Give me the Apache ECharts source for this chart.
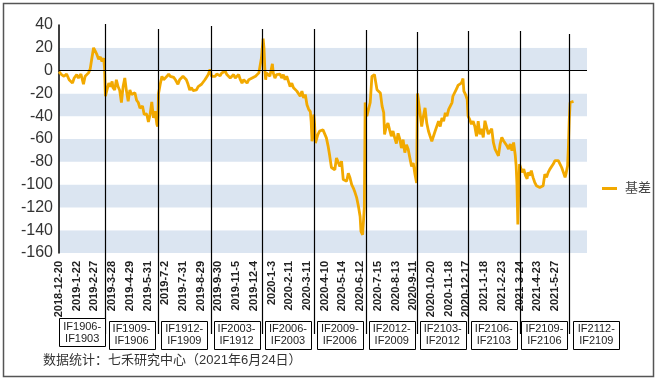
<!DOCTYPE html>
<html><head><meta charset="utf-8">
<script src="https://cdn.jsdelivr.net/npm/echarts@6/dist/echarts.min.js"></script>
<style>html,body{margin:0;padding:0;background:#fff}#c{width:657px;height:381px}</style>
</head><body><div id="c"></div>
<script>
// x: trading-day index from 2018-12-20; ticks every 21 trading days
const tickLabels = ['2018-12-20','2019-1-22','2019-2-27','2019-3-28','2019-4-29','2019-5-31','2019-7-2','2019-7-31','2019-8-29','2019-9-30','2019-11-5','2019-12-4','2020-1-3','2020-2-11','2020-3-11','2020-4-10','2020-5-14','2020-6-12','2020-7-15','2020-8-13','2020-9-11','2020-10-20','2020-11-18','2020-12-17','2021-1-18','2021-2-23','2021-3-24','2021-4-23','2021-5-27'];
const tickStep = 21;
const axisDays = 626;

const dayIndex = [0,3,6,9,12,14,16,18,21,23,26,29,31,33,35,37,39,41,43,45,47,49,51,53,54,55,57,59,61,63,64,66,68,70,72,74,76,78,80,82,84,86,90,92,94,96,99,101,104,106,108,110,112,114,116,117,118,120,122,124,126,128,130,132,134,136,138,140,141,143,145,147,149,151,153,155,157,159,161,163,165,167,169,171,173,175,177,179,181,183,185,187,189,191,193,195,197,199,201,203,205,207,209,211,213,215,217,219,221,223,225,227,229,231,233,235,237,238,240,242,243,244,245,246,248,250,252,253,254,256,258,260,262,264,266,268,270,272,274,276,278,280,282,284,286,288,290,292,294,296,298,299,300,301,302,303,304,306,307,309,313,315,317,319,321,323,325,327,329,331,333,335,337,339,341,343,345,347,349,351,353,355,357,358,360,362,363,365,367,369,371,372,374,375,377,379,381,383,385,386,388,390,392,394,396,398,400,402,404,406,408,410,412,414,416,418,420,422,424,425,428,430,432,434,436,438,440,442,444,446,448,450,452,454,456,458,460,462,464,466,467,470,472,473,475,477,479,480,482,484,485,487,489,491,493,495,497,499,501,503,505,507,509,511,513,515,517,519,521,523,525,527,529,531,533,535,537,539,541,542,543,544,545,546,547,549,551,553,555,556,558,560,562,564,566,568,570,572,574,576,578,580,582,584,586,588,590,592,594,596,598,600,601,603,604,605,606,608,610];
const basis = [-1,-3.5,-5,-3,-8,-6.5,-11,-6.5,-3.5,-6.5,-3,-12,-5,-4,-2,1.5,11,20,17,14,10,12,8,11,2,-22.5,-21,-11,-14,-9.5,-15,-17,-8,-14,-17.5,-28,-14,-6.5,-18,-27,-17,-21,-19.5,-26,-28,-33,-31,-38.5,-38,-45,-38.5,-27.5,-41.5,-35.7,-47,-49,-20,-12,-5,-8,-6.5,-5,-3,-5,-6.5,-6,-8,-9.5,-12,-8,-8,-5,-5,-8,-12,-17,-15,-17.5,-17,-17,-14,-14,-12,-11,-8,-6.5,-3.5,1,-5,-3.5,-5,-3,-3.5,-4.5,-2,-3,-0.5,-3.5,-3.5,-6.5,-5,-3.5,-6.5,-5,-3.5,-8,-11,-8,-6.5,-11,-8,-9,-6.5,-7,-5,-3.5,-2,2.5,11,28,20,2,-8,-2,-0.5,-5,2.5,6,-2,-6.5,-3.5,-5,-3,-6.5,-3.5,-8,-5,-9.5,-14,-11,-15,-14,-18,-17,-22.5,-18,-24,-21,-30,-34,-36,-45,-62,-56,-38.5,-47,-63.5,-63.5,-56,-53,-52,-53,-59,-66,-75,-85,-84,-87,-76.6,-75,-84,-79.5,-95.6,-94,-97,-90,-94,-100,-103,-107,-111.7,-119,-128,-141,-144,-120,-28,-40,-38.6,-28,-5,-3.5,-3.5,-8,-16.7,-15,-19.6,-31,-37,-56,-49,-46,-52,-57.6,-53,-59,-64,-55,-60,-68,-60.5,-72,-65,-69,-76.6,-84,-81,-91,-98.5,-20,-37,-49,-40,-32.7,-46,-53,-57.6,-62,-63.5,-53,-52,-44.4,-49,-41.5,-44.4,-37,-40,-34,-35.7,-28,-22.5,-18,-15,-13,-13.7,-11,-7,-18,-21,-25.4,-40,-43,-47,-44.4,-49,-57.6,-44.4,-56,-51,-58.6,-44,-45.4,-55.7,-54,-51,-63,-68.8,-70,-74.7,-64.4,-58.6,-61.5,-63,-66,-68.8,-64.4,-70.3,-63,-74.7,-83.5,-101,-135,-107,-82,-83.5,-89.3,-86.4,-92,-95,-89.3,-92,-87.8,-93.7,-98,-101,-99.5,-102.5,-102.5,-101,-90.8,-93.7,-89.3,-86.4,-85,-82,-79,-77.6,-79,-82,-85,-89.3,-93.7,-90.8,-83.5,-66,-42.5,-28,-28.5,-27];

// contract roll days (trading-day index) and the spread labels for each period
const rollDays = [55,117,180,241,302,364,425,485,546,605];
const spreadLabels = ['IF1906-\nIF1903','IF1909-\nIF1906','IF1912-\nIF1909','IF2003-\nIF1912','IF2006-\nIF2003','IF2009-\nIF2006','IF2012-\nIF2009','IF2103-\nIF2012','IF2106-\nIF2103','IF2109-\nIF2106','IF2112-\nIF2109'];
const seriesName = '基差';
const footnote = '数据统计：七禾研究中心（2021年6月24日）';

const yMin = -160, yMax = 40, yStep = 20;

const FONT = '"Liberation Sans", Arial, "Noto Sans CJK SC", sans-serif';
const chart = echarts.init(document.getElementById('c'), null, {renderer: 'canvas'});
const pts = dayIndex.map((d, i) => [d, basis[i]]);

chart.setOption({
  animation: false,
  backgroundColor: '#fff',
  grid: {left: 59, right: 70, top: 25, bottom: 128, containLabel: false},
  legend: {
    data: [{name: seriesName, icon: 'rect'}], left: 597, top: 177, orient: 'vertical',
    itemWidth: 15, itemHeight: 3, itemGap: 4,
    textStyle: {fontSize: 13, color: '#444', fontFamily: FONT, padding: [0, 0, 0, 3]}
  },
  xAxis: {
    type: 'value', min: 0, max: axisDays, interval: tickStep,
    axisLine: {show: false}, axisTick: {show: false}, splitLine: {show: false},
    axisLabel: {
      rotate: 90, margin: 8, fontSize: 11, fontWeight: 'bold', color: '#222', fontFamily: FONT,
      showMaxLabel: false,
      formatter: v => { const k = Math.round(v / tickStep); return (v % tickStep === 0 && tickLabels[k]) ? tickLabels[k] : ''; }
    }
  },
  yAxis: {
    type: 'value', min: yMin, max: yMax, interval: yStep,
    axisLine: {show: true, lineStyle: {color: '#000', width: 1.5}},
    axisTick: {show: false},
    splitLine: {show: false},
    splitArea: {show: true, areaStyle: {color: ['#dbe5f1', '#ffffff']}},
    axisLabel: {fontSize: 16, color: '#333', margin: 6, fontFamily: FONT}
  },
  series: [{
    name: seriesName, type: 'line', data: pts, symbol: 'none', showSymbol: false,
    lineStyle: {color: '#f2a900', width: 2.8}, itemStyle: {color: '#f2a900'},
    z: 3,
    markLine: {
      silent: true, symbol: 'none', label: {show: false},
      lineStyle: {color: '#000', width: 1.2, type: 'solid'},
      data: [{yAxis: 0}]
    }
  }]
});

// Annotations placed through the axis scale
const px = d => chart.convertToPixel({xAxisIndex: 0}, d);
const lineTops = [24, 29, 26, 29, 29, 30, 32, 31, 31, 34];
const lineBottom = 334;
const g = [];
rollDays.forEach((d, i) => {
  const x = Math.round(px(d)) + 0.5;
  g.push({type: 'line', z: 50, shape: {x1: x, y1: lineTops[i], x2: x, y2: lineBottom}, style: {stroke: '#000', lineWidth: 1.2}});
});
const bounds = [0].concat(rollDays);
spreadLabels.forEach((t, i) => {
  let cx;
  if (i < bounds.length - 1) cx = (px(bounds[i]) + px(bounds[i + 1])) / 2;
  else cx = px(bounds[bounds.length - 1]) + 27;
  const w = 46, h = 28, top = i === 0 ? 318 : 320.5;
  g.push({type: 'rect', z: 60, shape: {x: Math.round(cx - w / 2) + 0.5, y: Math.round(top) + 0.5, width: w, height: h},
          style: {fill: '#fff', stroke: '#000', lineWidth: 1}});
  g.push({type: 'text', z: 61, x: cx, y: top + h / 2 + 0.5,
          style: {text: t, fontSize: 11, fontFamily: FONT, fill: '#222', align: 'center', verticalAlign: 'middle', lineHeight: 12}});
});
g.push({type: 'text', z: 61, x: 43, y: 360, style: {text: footnote, fontSize: 13, fontFamily: FONT, fill: '#333', verticalAlign: 'middle'}});
g.push({type: 'rect', z: 70, shape: {x: 3.5, y: 3.5, width: 650, height: 373}, style: {fill: 'none', stroke: '#555', lineWidth: 1.5}});
chart.setOption({graphic: g});
</script></body></html>
